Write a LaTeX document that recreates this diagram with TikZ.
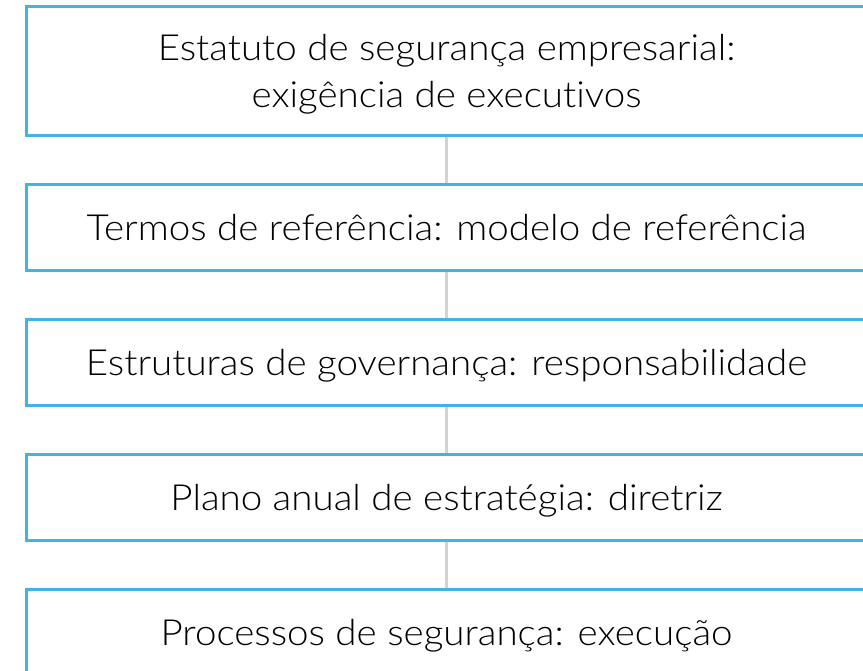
\documentclass[tikz,border=0pt]{standalone}
\usepackage{fontspec}
\setmainfont{Lato}[UprightFont={* Light}, FakeStretch=1.07, RawFeature={-liga}]
\definecolor{boxblue}{HTML}{40B4E5}
\definecolor{linkgrey}{HTML}{D3D3D3}
\begin{document}
\begin{tikzpicture}[x=1pt,y=-1pt,
  stepbox/.style={draw=boxblue, line width=3pt, fill=white, rectangle,
    minimum width=840pt, inner sep=0pt, align=center,
    text depth=0pt,
    font=\fontsize{36}{47}\selectfont},
  link/.style={draw=linkgrey, line width=3pt}]
\useasboundingbox (0,0) rectangle (863,671);
\node[stepbox, minimum height=129pt] (b1) at (446.5,71) {Estatuto de segurança empresarial:\\exigência de executivos};
\node[stepbox, minimum height=86pt] (b2) at (446.5,227.5) {Termos de referência: modelo de referência};
\node[stepbox, minimum height=86pt] (b3) at (446.5,362.5) {Estruturas de governança: responsabilidade};
\node[stepbox, minimum height=86pt] (b4) at (446.5,497.5) {Plano anual de estratégia: diretriz};
\node[stepbox, minimum height=86pt] (b5) at (446.5,632.5) {Processos de segurança: execução};
\draw[link] (b1.south) -- (b2.north);
\draw[link] (b2.south) -- (b3.north);
\draw[link] (b3.south) -- (b4.north);
\draw[link] (b4.south) -- (b5.north);
\end{tikzpicture}
\end{document}
